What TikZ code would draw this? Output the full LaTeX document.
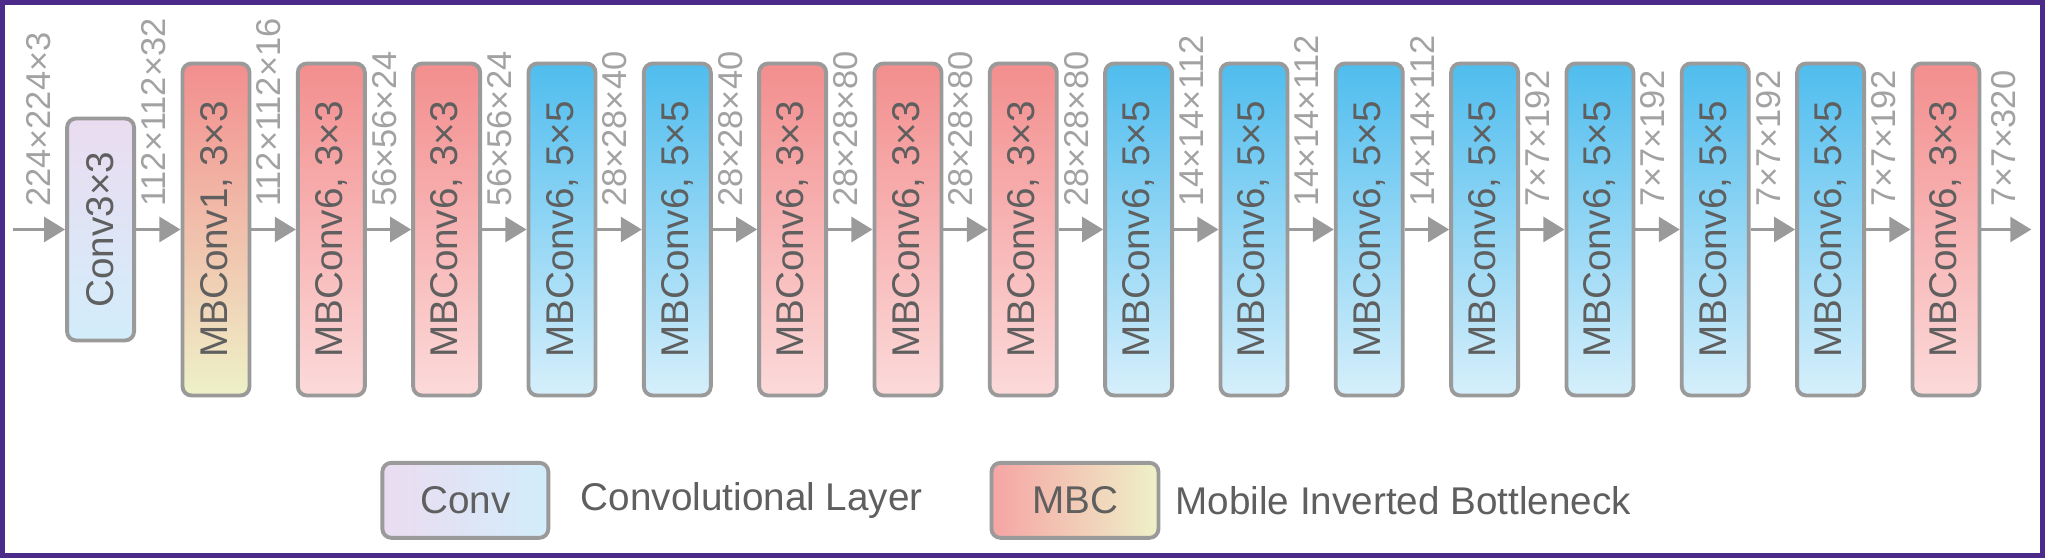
\documentclass[tikz,border=0pt]{standalone}
\usepackage{fontspec}
\setmainfont{Liberation Sans}
\usetikzlibrary{arrows.meta}
\definecolor{frame}{HTML}{4B2A8A}
\definecolor{edge}{HTML}{9A9A9A}
\definecolor{txt}{HTML}{5F5F5F}
\definecolor{lbl}{HTML}{A2A2A2}
\definecolor{redtop}{HTML}{F38E8E}
\definecolor{redbot}{HTML}{FCDADA}
\definecolor{bluetop}{HTML}{4FBDEE}
\definecolor{bluebot}{HTML}{D6EFFB}
\definecolor{yelbot}{HTML}{EEF1C8}
\definecolor{lavtop}{HTML}{EBDCF0}
\definecolor{lavbot}{HTML}{D2EDFB}
\begin{document}
\begin{tikzpicture}[x=0.01cm,y=-0.01cm,
  blk/.style={draw=edge,line width=1.1pt,rounded corners=0.09cm,inner sep=0pt,minimum width=0.67cm,minimum height=3.32cm},
  redb/.style={blk,top color=redtop,bottom color=redbot},
  blueb/.style={blk,top color=bluetop,bottom color=bluebot},
  firstb/.style={blk,top color=redtop,bottom color=yelbot},
  convb/.style={blk,minimum height=2.22cm,top color=lavtop,bottom color=lavbot},
  btxt/.style={rotate=90,text=txt,font=\fontsize{11}{13}\selectfont,inner sep=0pt},
  size/.style={rotate=90,anchor=west,text=lbl,font=\fontsize{9.8}{12}\selectfont,inner sep=0pt},
  arr/.style={draw=edge,line width=1.1pt,-{Triangle[length=6pt,width=7pt]}},
  legt/.style={text=txt,font=\fontsize{11}{13}\selectfont,anchor=west,inner sep=0pt}]
\draw[frame,line width=1.5pt] (2,2) rectangle (2043,555);
\coordinate (in) at (12,229);
\node[convb] (b0) at (100,229) {};
\node[btxt] (t0) at (b0) {Conv3×3};
\foreach \i/\st/\lab in {1/firstb/{MBConv1, 3×3},2/redb/{MBConv6, 3×3},3/redb/{MBConv6, 3×3},4/blueb/{MBConv6, 5×5},5/blueb/{MBConv6, 5×5},6/redb/{MBConv6, 3×3},7/redb/{MBConv6, 3×3},8/redb/{MBConv6, 3×3},9/blueb/{MBConv6, 5×5},10/blueb/{MBConv6, 5×5},11/blueb/{MBConv6, 5×5},12/blueb/{MBConv6, 5×5},13/blueb/{MBConv6, 5×5},14/blueb/{MBConv6, 5×5},15/blueb/{MBConv6, 5×5},16/redb/{MBConv6, 3×3}}{
  \node[\st] (b\i) at ({215.5+115.4*(\i-1)},229) {};
  \node[btxt] (t\i) at (b\i) {\lab};
}
\coordinate (out) at (2032,229);
\draw[arr] (in) -- (b0);
\foreach \a/\b in {0/1,1/2,2/3,3/4,4/5,5/6,6/7,7/8,8/9,9/10,10/11,11/12,12/13,13/14,14/15,15/16}{
  \draw[arr] (b\a) -- (b\b);
}
\draw[arr] (b16) -- (out);
\node[size] (s0) at ([xshift=-0.27cm,yshift=0.22cm]b0.west) {224×224×3};
\foreach \i/\lab in {1/112×112×32,2/112×112×16,3/56×56×24,4/56×56×24,5/28×28×40,6/28×28×40,7/28×28×80,8/28×28×80,9/28×28×80,10/14×14×112,11/14×14×112,12/14×14×112,13/7×7×192,14/7×7×192,15/7×7×192,16/7×7×192}{
  \node[size] (s\i) at ([xshift=-0.27cm,yshift=0.22cm]b\i.west) {\lab};
}
\node[size] (s17) at (2004,207) {7×7×320};
\node[blk,minimum width=1.66cm,minimum height=0.75cm,left color=lavtop,right color=lavbot] (lc) at (465,500) {};
\node[text=txt,font=\fontsize{11}{13}\selectfont] (lct) at (lc) {Conv};
\node[legt] (lcl) at (580,500) {Convolutional Layer};
\node[blk,minimum width=1.67cm,minimum height=0.75cm,left color=redtop!80!white,right color=yelbot] (lm) at (1075,500) {};
\node[text=txt,font=\fontsize{11}{13}\selectfont] (lmt) at (lm) {MBC};
\node[legt] (lml) at (1175,500) {Mobile Inverted Bottleneck};
\end{tikzpicture}
\end{document}
